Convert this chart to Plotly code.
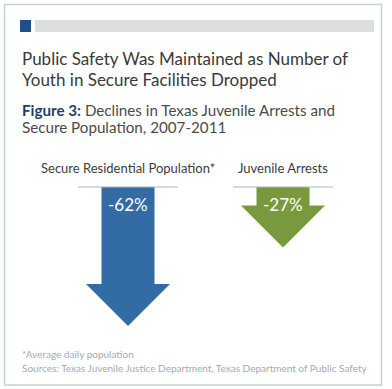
import plotly.graph_objects as go

W, H = 392, 389

# ---- data ----
categories = ["Secure Residential Population*", "Juvenile Arrests"]
values = [-62, -27]
value_labels = ["-62%", "-27%"]
colors = ["#336ca4", "#789a3c"]

title_lines = ["Public Safety Was Maintained as Number of",
               "Youth in Secure Facilities Dropped"]
fig_label = "Figure 3:"
subtitle_lines = [" Declines in Texas Juvenile Arrests and",
                  "Secure Population, 2007-2011"]
footnotes = ["*Average daily population",
             "Sources: Texas Juvenile Justice Department, Texas Department of Public Safety"]

FONT = "Lato, 'Open Sans', sans-serif"

def px(x):
    return x / W

def py(y):
    return 1 - y / H

fig = go.Figure()

# axes scales: x index -> pixel center, y percent -> pixel
x_range = [-128 / 155, (W - 128) / 155]
ppu = 2.24
y_range = [-(H - 187) / ppu, 187 / ppu]

shaft_hw = 26.5 / 155
head_hw = 42 / 155
head_len = 42 / ppu
base_hw = 50 / 155

for i, (cat, v, c) in enumerate(zip(categories, values, colors)):
    neck = v + head_len
    xs = [i - shaft_hw, i + shaft_hw, i + shaft_hw, i + head_hw, i, i - head_hw, i - shaft_hw, i - shaft_hw]
    ys = [0, 0, neck, neck, v, neck, neck, 0]
    fig.add_trace(go.Scatter(x=xs, y=ys, fill="toself", fillcolor=c, mode="lines",
                             line=dict(width=0, color=c), hoverinfo="skip", showlegend=False))
    # baseline
    fig.add_trace(go.Scatter(x=[i - base_hw, i + base_hw], y=[0, 0], mode="lines",
                             line=dict(width=1.2, color="#aeb6bc"), hoverinfo="skip", showlegend=False))
    fig.add_annotation(x=i, y=0, xref="x", yref="y", text=value_labels[i], showarrow=False,
                       yanchor="middle", yshift=-17, font=dict(family=FONT, size=17, color="white"))
    fig.add_annotation(x=i, y=0, xref="x", yref="y", text=cat, showarrow=False,
                       yanchor="middle", yshift=19, font=dict(family=FONT, size=13, color="#3c3c3c"))

# frame and header bars
fig.add_shape(type="rect", xref="paper", yref="paper", x0=px(4.5), x1=px(381.5), y0=py(385), y1=py(4.5),
              line=dict(color="#c3d2d7", width=1.5), fillcolor="rgba(0,0,0,0)", layer="below")
fig.add_shape(type="rect", xref="paper", yref="paper", x0=px(20), x1=px(31), y0=py(32), y1=py(20),
              line=dict(width=0), fillcolor="#1c4f8c")
fig.add_shape(type="rect", xref="paper", yref="paper", x0=px(35), x1=px(374), y0=py(32), y1=py(20),
              line=dict(width=0), fillcolor="#dcdee0")

# titles
for j, t in enumerate(title_lines):
    fig.add_annotation(x=px(20), y=py(58 + 21 * j), xref="paper", yref="paper", text=t, showarrow=False,
                       xanchor="left", yanchor="middle", font=dict(family=FONT, size=17, color="#3a3a3a"))
fig.add_annotation(x=px(20), y=py(110), xref="paper", yref="paper",
                   text="<span style='color:#1d3f6e'><b>" + fig_label + "</b></span>" + subtitle_lines[0],
                   showarrow=False,
                   xanchor="left", yanchor="middle", font=dict(family=FONT, size=15.2, color="#4a4a4a"))
fig.add_annotation(x=px(20), y=py(127), xref="paper", yref="paper", text=subtitle_lines[1], showarrow=False,
                   xanchor="left", yanchor="middle", font=dict(family=FONT, size=15.2, color="#4a4a4a"))

for j, t in enumerate(footnotes):
    fig.add_annotation(x=px(20), y=py(354 + 14 * j), xref="paper", yref="paper", text=t, showarrow=False,
                       xanchor="left", yanchor="middle", font=dict(family=FONT, size=10, color="#a3abb2"))

fig.update_layout(
    width=W, height=H, margin=dict(l=0, r=0, t=0, b=0),
    paper_bgcolor="white", plot_bgcolor="white",
    xaxis=dict(range=x_range, visible=False, fixedrange=True),
    yaxis=dict(range=y_range, visible=False, fixedrange=True),
    showlegend=False,
)
fig.write_html("out.html", config={"displayModeBar": False},
               post_script="document.body.style.margin='0';document.body.style.overflow='hidden';")
